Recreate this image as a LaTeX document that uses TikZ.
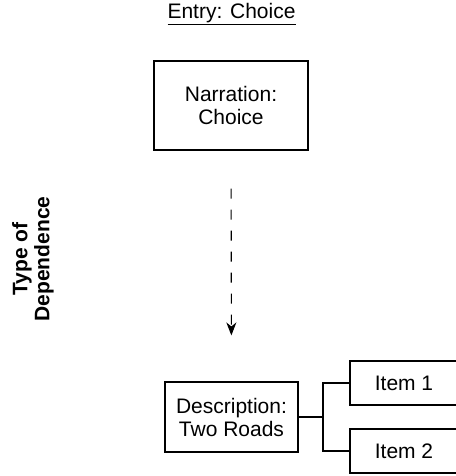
\documentclass[tikz,border=0pt]{standalone}
\usepackage{fontspec}
\setmainfont{Liberation Sans}
\usetikzlibrary{arrows.meta}

\begin{document}
\begin{tikzpicture}[
  x=1pt, y=-1pt,
  every text node part/.style={align=center},
  every node/.style={font=\fontsize{21}{23}\selectfont},
  boxsty/.style={draw, line width=1.1pt, inner sep=0pt},
  linksty/.style={line width=1.1pt},
  depsty/.style={line width=1.1pt, dash pattern=on 10pt off 11pt, -{Stealth[length=13pt,width=10pt,inset=4pt]}}
]
%general params
\def\gap{34}   %half distance between items
\def\itemw{108}

\useasboundingbox (0,0) rectangle (455,476);

  \node (ENT) at (231.5,14) {\underline{Entry: Choice}};

  \node[boxsty, minimum width=154, minimum height=89] (NAR) at (231,105.5) {Narration:\\Choice};

  \node[rotate=90, font=\fontsize{21}{22}\selectfont\bfseries] (DEP) at (33,259) {Type of\\Dependence};

  \node[boxsty, minimum width=133, minimum height=70] (DES) at (231.5,417) {Description:\\Two Roads};

  \node[boxsty, minimum width=\itemw, minimum height=44] (IT1) at (404,417-\gap) {Item 1};
  \node[boxsty, minimum width=\itemw, minimum height=44] (IT2) at (404,417+\gap) {Item 2};

  \coordinate (J) at (323,417);

  \draw[depsty, shorten <=38pt, shorten >=46pt] (NAR) -- (DES);

  \draw[linksty] (DES.east) -- (J);
  \draw[linksty] (J) |- (IT1.west);
  \draw[linksty] (J) |- (IT2.west);

\end{tikzpicture}
\end{document}
